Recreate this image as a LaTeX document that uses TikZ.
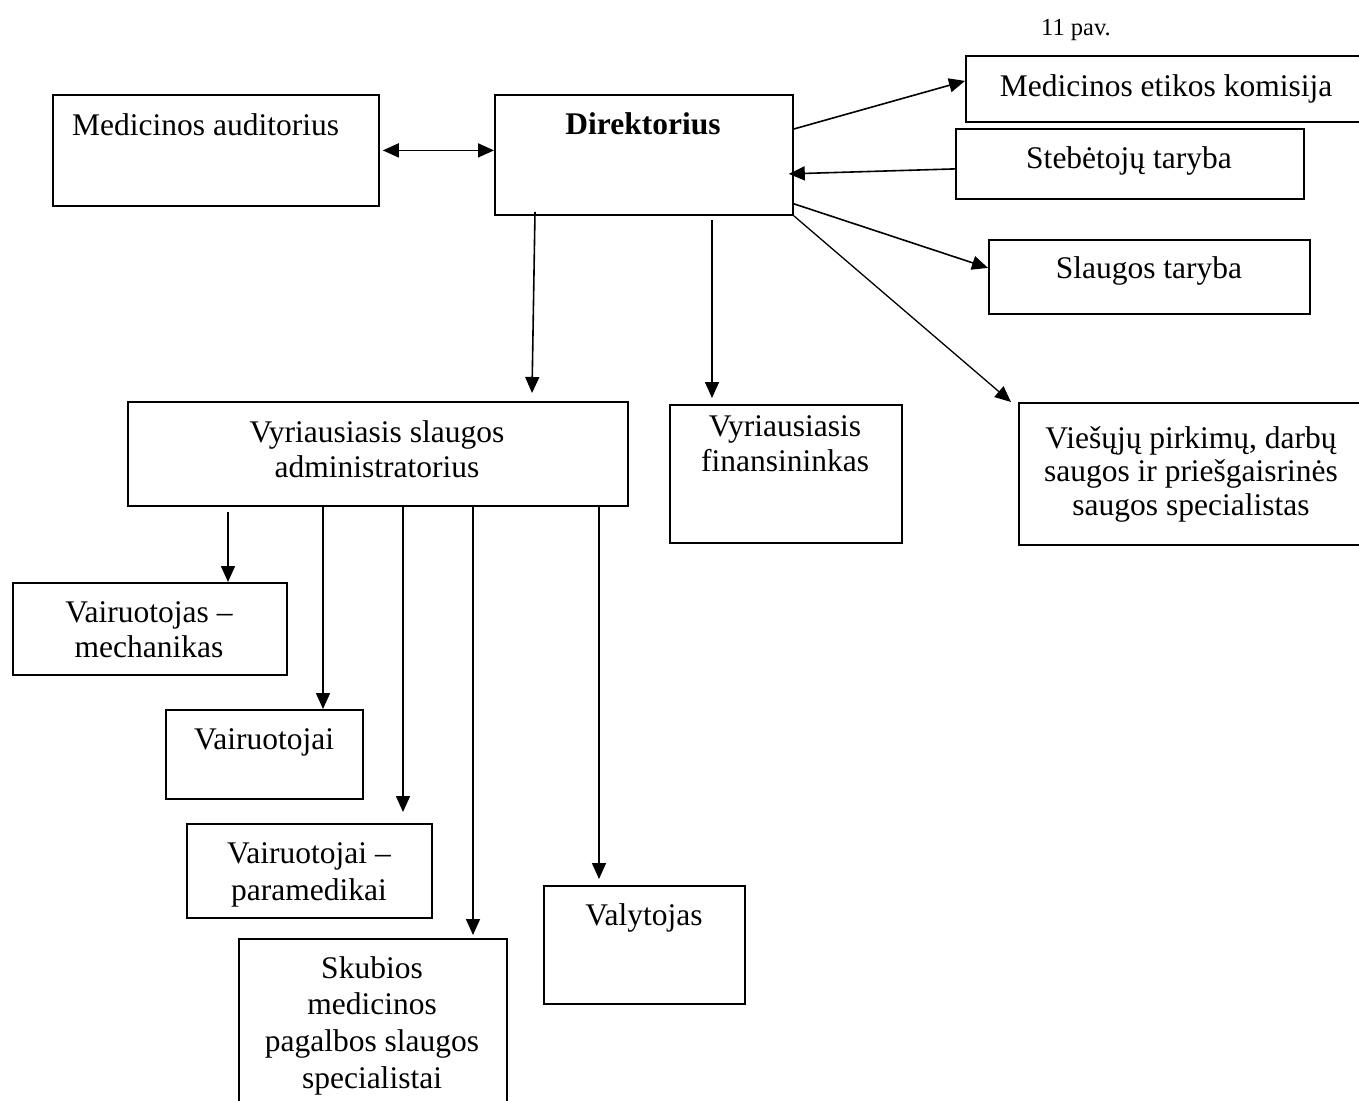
\documentclass[tikz,border=0pt]{standalone}
\usepackage{fontspec}
\setmainfont{Liberation Serif}
\usetikzlibrary{arrows.meta}
\begin{document}
\begin{tikzpicture}[x=1pt,y=-1pt,
  >={Triangle[length=16pt,width=14pt]},
  box/.style={draw, line width=1.8pt, inner sep=0pt, anchor=north west},
  txt/.style={inner sep=0pt, font=\fontsize{31.5}{35.5}\selectfont, align=flush center},
  conn/.style={line width=1.6pt, ->},
]
\clip (0,0) rectangle (1359,1100);
% boxes
\node[box, minimum width=326pt, minimum height=111pt] (aud)  at (52,94)   {};
\node[box, minimum width=298pt, minimum height=120pt] (dir)  at (494,94)  {};
\node[box, minimum width=420pt, minimum height=66pt]  (etk)  at (965,55)  {};
\node[box, minimum width=348pt, minimum height=70pt]  (steb) at (955,128) {};
\node[box, minimum width=321pt, minimum height=74pt]  (slt)  at (988,239) {};
\node[box, minimum width=500pt, minimum height=104pt] (vsa)  at (127,401) {};
\node[box, minimum width=232pt, minimum height=138pt] (fin)  at (669,404) {};
\node[box, minimum width=380pt, minimum height=142pt] (vie)  at (1018,402) {};
\node[box, minimum width=274pt, minimum height=92pt]  (vm)   at (12,582)  {};
\node[box, minimum width=197pt, minimum height=89pt]  (v1)   at (165,709) {};
\node[box, minimum width=245pt, minimum height=94pt]  (vp)   at (186,823) {};
\node[box, minimum width=268pt, minimum height=200pt] (sk)   at (238,938) {};
\node[box, minimum width=201pt, minimum height=118pt] (val)  at (543,885) {};
% texts
\node[inner sep=0pt, font=\fontsize{24.5}{28}\selectfont, anchor=base] (pav) at (1076,35) {11 pav.};
\node[txt, anchor=base west] (taud) at (72,135) {Medicinos auditorius};
\node[txt, anchor=base, font=\fontsize{31.5}{35.5}\selectfont\bfseries] (tdir) at (643,134) {Direktorius};
\node[txt, anchor=base] (tetk) at (1166,96) {Medicinos etikos komisija};
\node[txt, anchor=base] (tsteb) at (1129,168) {Stebėtojų taryba};
\node[txt, anchor=base] (tslt) at (1149,278) {Slaugos taryba};
\node[txt, anchor=base, text width=460pt] (tvsa) at (377,442) {Vyriausiasis slaugos\\administratorius};
\node[txt, anchor=base, text width=220pt] (tfin) at (785,436) {Vyriausiasis\\finansininkas};
\node[txt, anchor=base, text width=360pt, font=\fontsize{31.5}{33.5}\selectfont] (tvie) at (1191,448) {Viešųjų pirkimų, darbų\\saugos ir priešgaisrinės\\saugos specialistas};
\node[txt, anchor=base, text width=260pt] (tvm) at (149,622) {Vairuotojas –\\mechanikas};
\node[txt, anchor=base] (tv1) at (264,749) {Vairuotojai};
\node[txt, anchor=base, text width=240pt, font=\fontsize{31.5}{37}\selectfont] (tvp) at (309,863) {Vairuotojai –\\paramedikai};
\node[txt, anchor=base, text width=260pt, font=\fontsize{31.5}{36.7}\selectfont] (tsk) at (372,978) {Skubios\\medicinos\\pagalbos slaugos\\specialistai};
\node[txt, anchor=base] (tval) at (644,925) {Valytojas};
% connectors
\draw[conn, <->] ([xshift=3pt]aud.east) -- (aud.east -| dir.west);
\draw[conn] ([yshift=-35pt]dir.north east) -- ([yshift=8pt]etk.west);
\draw[conn] ([yshift=-5pt]steb.west) -- ([yshift=-19pt,xshift=-5pt]dir.east);
\draw[conn] ([yshift=12pt]dir.south east) -- ([yshift=9pt]slt.west);
\draw[conn, line width=1.3pt] (dir.south east) -- ([xshift=-7pt]vie.north west);
\draw[conn] ([xshift=41pt,yshift=4pt]dir.south west) -- ([xshift=405pt,yshift=8pt]vsa.north west);
\draw[conn] ([xshift=218pt,yshift=-4pt]dir.south west) -- ([xshift=43pt,yshift=6pt]fin.north west);
\draw[conn] ([xshift=101pt,yshift=-5pt]vsa.south west) -- ([xshift=216pt]vm.north west);
\draw[conn] ([xshift=196pt]vsa.south west) -- ([xshift=158pt]v1.north west);
\draw[conn] ([xshift=276pt]vsa.south west) -- ([xshift=217pt,yshift=11pt]vp.north west);
\draw[conn] ([xshift=346pt]vsa.south west) -- ([xshift=235pt,yshift=3pt]sk.north west);
\draw[conn] ([xshift=472pt]vsa.south west) -- ([xshift=56pt,yshift=6pt]val.north west);
\end{tikzpicture}
\end{document}
